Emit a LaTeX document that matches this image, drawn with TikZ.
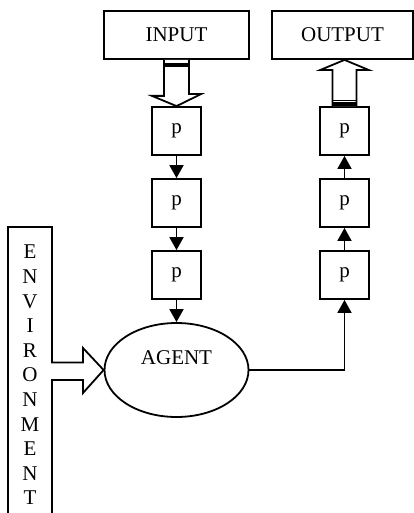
\documentclass[tikz,border=0pt]{standalone}
\usepackage{fontspec}
\setmainfont{Liberation Serif}
\usetikzlibrary{arrows.meta,shapes.geometric,calc}
\begin{document}
\begin{tikzpicture}[x=1pt,y=-1pt,
  lw/.style={line width=1.8pt},
  txt/.style={font=\fontsize{21}{24.6}\selectfont},
  box/.style={draw,lw,rectangle,inner sep=0pt,txt},
  pbox/.style={box,minimum width=49pt,minimum height=48pt},
  lbl/.style={inner sep=0pt,txt},
  conn/.style={lw,-{Triangle[width=14pt,length=13pt]}},
  hollow/.style={lw,fill=white,line join=miter},
  stripe/.style={line width=3.5pt}
]
\useasboundingbox (0,0) rectangle (414,513);

% top boxes
\node[box,minimum width=145pt,minimum height=48pt] (input) at (176.5,35) {INPUT};
\node[box,minimum width=141pt,minimum height=48pt] (output) at (342.5,35) {OUTPUT};

% p chains
\node[pbox] (p1) at (176.5,131) {p};
\node[pbox] (p2) at (176.5,203) {p};
\node[pbox] (p3) at (176.5,275) {p};
\node[pbox] (q1) at (344.5,131) {p};
\node[pbox] (q2) at (344.5,203) {p};
\node[pbox] (q3) at (344.5,275) {p};

% agent
\node[draw,lw,ellipse,inner sep=0pt,minimum width=144pt,minimum height=94pt] (agent) at (176.5,370) {};
\node[lbl] (agentlabel) at (176.5,358) {AGENT};

% connectors
\draw[conn] (p1) -- (p2);
\draw[conn] (p2) -- (p3);
\draw[conn] (p3) -- (agent);
\draw[conn] (q3) -- (q2);
\draw[conn] (q2) -- (q1);
\draw[conn] (agent.east) -| (q3.south);

% hollow arrow INPUT -> p1
\draw[hollow] ($(input.south)+(-12.5,0)$) -- ++(0,36) -- ++(-12,0)
  -- (p1.north) -- ($(p1.north)+(24.5,-12)$) -- ++(-12,0) -- ($(input.south)+(12.5,0)$);
\draw[stripe] ($(input.south)+(-12.5,5)$) -- ++(25,0);

% hollow arrow q1 -> OUTPUT
\draw[hollow] ($(q1.north)+(-12,0)$) -- ++(0,-36) -- ++(-12.5,0)
  -- (output.south -| q1.north) -- ($(q1.north)+(24.5,-36)$) -- ++(-12.5,0) -- ($(q1.north)+(12,0)$);
\draw[lw] ($(q1.north)+(-12,-5.5)$) -- ++(24,0);
\draw[stripe] ($(q1.north)+(-12,-2)$) -- ++(24,0);

% environment
\draw[lw] (8,513) -- (8,227) -- (52,227) -- (52,513);
\node[lbl,align=center] (envtext) at (30,375) {E\\N\\V\\I\\R\\O\\N\\M\\E\\N\\T};

% hollow arrow ENVIRONMENT -> AGENT
\draw[hollow] (51,362.5) -- (83,362.5) -- (83,348) -- (agent.west) -- (83,393) -- (83,380) -- (51,380);
\end{tikzpicture}
\end{document}
